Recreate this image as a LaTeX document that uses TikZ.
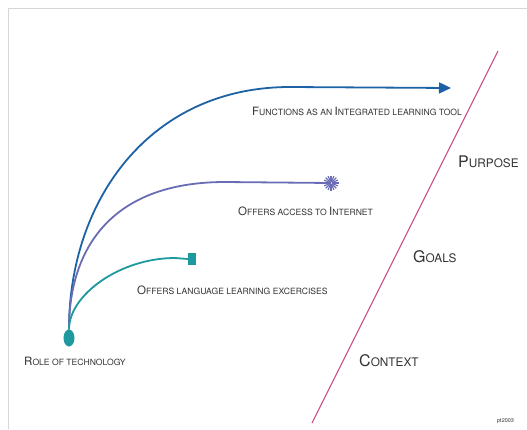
\documentclass[tikz,border=0pt]{standalone}
\usepackage{fontspec}
\setmainfont{TeX Gyre Heros}
\usetikzlibrary{shapes.geometric,arrows.meta}
\definecolor{framegray}{HTML}{D6D6D6}
\definecolor{bluec}{HTML}{1E62A6}
\definecolor{purplec}{HTML}{6A6DB6}
\definecolor{tealc}{HTML}{1E9A9E}
\definecolor{magentac}{HTML}{C8427D}
\definecolor{textc}{HTML}{333333}
\newcommand\lc[1]{{\fontsize{8.6}{9}\selectfont\MakeUppercase{#1}}}
\newcommand\blc[1]{{\fontsize{11.8}{13}\selectfont\MakeUppercase{#1}}}
\tikzset{
  smalllabel/.style={text=textc, font=\fontsize{11.5}{12}\selectfont, inner sep=0, anchor=west},
  biglabel/.style={text=textc, font=\fontsize{16}{18}\selectfont, inner sep=0, anchor=west},
  curve/.style={line width=1.8pt},
}
\begin{document}
\begin{tikzpicture}[x=1pt,y=-1pt]
\useasboundingbox (0,0) rectangle (527,429);
\fill[white] (0,0) rectangle (527,429);
\draw[framegray, line width=0.8pt] (8,429) -- (8,8) -- (527,8);

% divider
\coordinate (divB) at (312,423);
\coordinate (divT) at (498,51);
\draw[magentac, line width=1pt] (divB) -- (divT);

% root
\node[ellipse, fill=tealc, minimum width=11pt, minimum height=17pt, inner sep=0] (root) at (69,338) {};
\coordinate (arrowEnd) at (451,88);
\node[rectangle, fill=tealc, minimum width=8pt, minimum height=12pt, inner sep=0] (sq) at (192,259) {};
\node[circle, minimum size=14pt, inner sep=0] (star) at (331,183) {};
\foreach \a in {0,22.5,...,337.5} \draw[purplec, line width=1.1pt] (star.center) -- ++(\a:7.5pt);
\fill[white] (star.center) circle (1.2pt);

% curves
\draw[bluec, curve, -{Triangle[length=12pt,width=11pt]}] (root.north) .. controls (69,200) and (150,87) .. (290,87) -- (arrowEnd);
\draw[purplec, curve] (root.north) .. controls (69,250) and (110,182) .. (225,182) -- (star.center);
\draw[tealc, curve] (root.north) .. controls (69,295) and (120,258) .. (175,258) -- (sq.west);

% labels
\node[smalllabel] (l1) at (252,111) {F\lc{unctions as an }I\lc{ntegrated learning tool}};
\node[smalllabel] (l2) at (238,211) {O\lc{ffers access to }I\lc{nternet}};
\node[smalllabel] (l3) at (137,290) {O\lc{ffers language learning excercises}};
\node[smalllabel] (l4) at (24,361) {R\lc{ole of technology}};

\node[biglabel] (purpose) at (458,162) {P\blc{urpose}};
\node[biglabel] (goals) at (413,257) {G\blc{oals}};
\node[biglabel] (context) at (359,361) {C\blc{ontext}};
\node[text=textc, font=\fontsize{5.5}{6}\selectfont, inner sep=0, anchor=west] (pt) at (497,421) {pt2003};
\end{tikzpicture}
\end{document}
